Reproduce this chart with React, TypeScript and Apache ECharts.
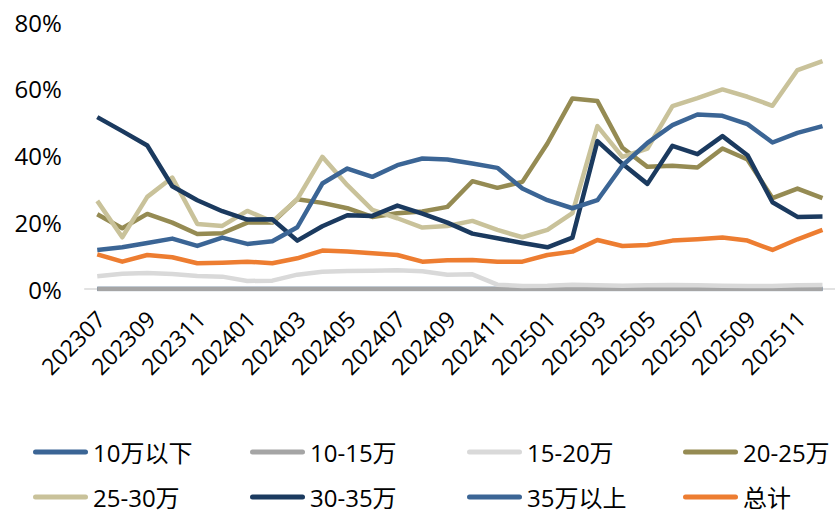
import React, { useEffect, useRef } from "react";
import * as echarts from "echarts";

const categories = [
  "202307", "202308", "202309", "202310", "202311", "202312",
  "202401", "202402", "202403", "202404", "202405", "202406",
  "202407", "202408", "202409", "202410", "202411", "202412",
  "202501", "202502", "202503", "202504", "202505", "202506",
  "202507", "202508", "202509", "202510", "202511", "202512",
];

const below10 = [0, 0, 0, 0, 0, 0, 0, 0, 0, 0, 0, 0, 0, 0, 0, 0, 0, 0, 0, 0, 0, 0, 0, 0, 0, 0, 0, 0, 0, 0];
const r10to15 = [0, 0, 0, 0, 0, 0, 0, 0, 0, 0, 0, 0, 0, 0, 0, 0, 0, 0, 0, 0, 0, 0, 0, 0, 0, 0, 0, 0, 0, 0];
const r15to20 = [3.8, 4.6, 4.8, 4.5, 3.9, 3.7, 2.4, 2.5, 4.3, 5.2, 5.4, 5.5, 5.6, 5.3, 4.3, 4.4, 1.3, 0.9, 1.0, 1.3, 1.1, 1.0, 1.1, 1.2, 1.1, 1.0, 0.9, 0.9, 1.1, 1.2];
const r20to25 = [22.4, 18.2, 22.5, 19.9, 16.5, 16.7, 19.9, 19.9, 26.9, 25.8, 24.2, 21.6, 22.7, 23.2, 24.6, 32.3, 30.3, 32.1, 43.6, 57.1, 56.3, 42.3, 36.6, 36.9, 36.4, 42.1, 38.8, 27.2, 30.1, 27.2];
const r25to30 = [26.4, 15.5, 27.6, 33.4, 19.5, 18.9, 23.4, 20.2, 26.9, 39.6, 31.1, 23.7, 21.2, 18.4, 18.9, 20.4, 17.7, 15.5, 17.7, 22.7, 48.8, 39.6, 42.1, 54.8, 57.2, 59.8, 57.6, 54.9, 65.6, 68.3];
const r30to35 = [51.5, 47.3, 43.0, 30.8, 26.6, 23.3, 20.8, 20.9, 14.5, 18.8, 22.1, 21.9, 25.0, 22.6, 19.9, 16.6, 15.2, 13.8, 12.5, 15.4, 44.3, 37.5, 31.5, 42.9, 40.4, 45.8, 40.1, 26.0, 21.6, 21.7];
const above35 = [11.7, 12.5, 13.8, 15.1, 12.9, 15.4, 13.5, 14.3, 18.5, 31.6, 36.1, 33.6, 37.1, 39.1, 38.8, 37.6, 36.3, 30.1, 26.6, 24.2, 26.6, 37.0, 43.8, 49.1, 52.3, 51.9, 49.4, 43.9, 46.8, 48.8];
const total = [10.4, 8.2, 10.2, 9.5, 7.7, 7.9, 8.2, 7.7, 9.2, 11.5, 11.2, 10.7, 10.2, 8.2, 8.6, 8.7, 8.2, 8.2, 10.2, 11.2, 14.7, 12.9, 13.2, 14.5, 14.9, 15.4, 14.5, 11.7, 14.9, 17.7];

const seriesNames = ["10万以下", "10-15万", "15-20万", "20-25万", "25-30万", "30-35万", "35万以上", "总计"];
const seriesData = [below10, r10to15, r15to20, r20to25, r25to30, r30to35, above35, total];
const colors = ["#3B6595", "#A5A5A5", "#D9D9D9", "#958B53", "#C9C29A", "#1B3A5F", "#3B6595", "#ED7D31"];
const yTicks = [0, 20, 40, 60, 80];

const FONT = "'Open Sans', 'Noto Sans CJK SC', sans-serif";
const ICON = "path://M2.5,0 L52.5,0 A2.5,2.5 0 0 1 52.5,5 L2.5,5 A2.5,2.5 0 0 1 2.5,0 Z";

export default function App() {
  const ref = useRef<HTMLDivElement>(null);
  useEffect(() => {
    if (!ref.current) return;
    const chart = echarts.init(ref.current, undefined, { renderer: "svg" });
    const legendLefts = [28, 245, 462, 678];
    const legendTops = [435, 480];
    chart.setOption({
      animation: false,
      color: colors,
      grid: { left: 84.75, right: -14.75, top: 22, bottom: 222 },
      legend: seriesNames.map((name, i) => ({
        data: [name],
        orient: "horizontal",
        left: legendLefts[i % 4],
        top: legendTops[Math.floor(i / 4)],
        itemWidth: 55,
        itemHeight: 5,
        icon: ICON,
        textStyle: { fontSize: 24, fontFamily: FONT, color: "#000", lineHeight: 24 },
        selectedMode: false,
      })),
      xAxis: {
        type: "category",
        data: categories,
        boundaryGap: true,
        axisTick: { show: false },
        axisLine: { lineStyle: { color: "#D9D9D9", width: 1.5 } },
        axisLabel: {
          interval: 1,
          rotate: 45,
          margin: 29,
          padding: [0, -5, 0, 0],
          fontSize: 23,
          fontFamily: FONT,
          color: "#000",
        },
      },
      yAxis: {
        type: "value",
        min: yTicks[0],
        max: yTicks[yTicks.length - 1],
        interval: 20,
        splitLine: { show: false },
        axisLine: { show: false },
        axisTick: { show: false },
        axisLabel: {
          formatter: "{value}%",
          margin: 23,
          fontSize: 24,
          fontFamily: FONT,
          color: "#000",
        },
      },
      series: seriesNames.map((name, i) => ({
        name,
        type: "line",
        data: seriesData[i],
        symbol: "none",
        lineStyle: { width: 4.5, color: colors[i], join: "round" },
        itemStyle: { color: colors[i] },
      })),
    });
    return () => chart.dispose();
  }, []);
  return (
    <div
      ref={ref}
      style={{ position: "absolute", left: 0, top: 0, width: 835, height: 511, background: "#fff" }}
    />
  );
}
